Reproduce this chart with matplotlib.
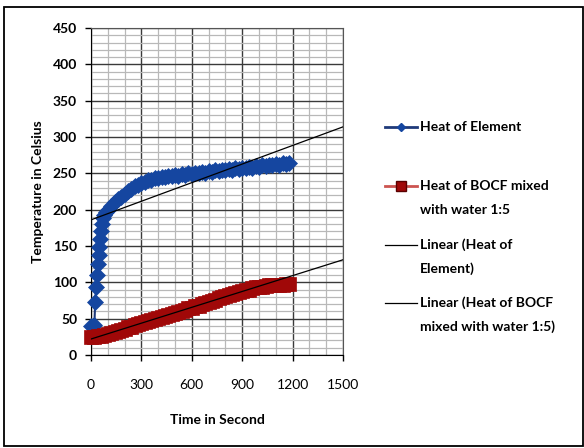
import numpy as np
import matplotlib
matplotlib.use("Agg")
import matplotlib.pyplot as plt
from matplotlib.lines import Line2D
from matplotlib.patches import Rectangle

plt.rcParams['font.family'] = ['Lato', 'DejaVu Sans']

# heat of element (s, deg C)
element_time = [0, 10, 20, 25, 30, 35, 40, 45, 50, 55, 60, 65, 70, 80, 90, 100,
                120, 140, 160, 180, 200, 220, 240, 260, 280, 300, 320, 340, 360, 380,
                400, 420, 440, 460, 480, 500, 520, 540, 560, 580, 600, 620, 640, 660,
                680, 700, 720, 740, 760, 780, 800, 820, 840, 860, 880, 900, 920, 940,
                960, 980, 1000, 1020, 1040, 1060, 1080, 1100, 1120, 1140, 1160, 1180]
element_temp = [40, 40, 41, 73, 93, 110, 125, 137, 148, 159, 170, 180, 188, 193, 197, 200,
                205, 210, 214, 218, 222, 226, 228, 232, 234, 237, 238, 241, 241, 243,
                243, 245, 245, 247, 246, 248, 247, 249, 248, 250, 249, 251, 250, 252,
                251, 253, 252, 254, 253, 255, 254, 256, 255, 257, 256, 258, 257, 259,
                258, 260, 259, 261, 260, 262, 261, 263, 262, 264, 263, 264]

# heat of BOCF mixed with water 1:5, sampled every 20 s
bocf_time = list(range(0, 1200, 20))
bocf_temp = [25, 25, 26, 26, 27, 29, 30, 31, 33, 34, 36, 38, 39, 41, 42, 44, 45, 47, 48, 50,
             51, 52, 54, 55, 57, 58, 59, 61, 62, 64, 65, 67, 68, 70, 72, 73, 75, 76, 78, 80,
             81, 83, 84, 86, 87, 88, 89, 90, 92, 93, 94, 94, 95, 96, 96, 97, 97, 97, 98, 98]

# linear trendlines as shown (slope, intercept), forecast forward to 1500 s
trend_element = (0.0853, 186.0)
trend_bocf = (0.0727, 22.0)
trend_end = 1500

x_ticks = [0, 300, 600, 900, 1200, 1500]
y_ticks = [0, 50, 100, 150, 200, 250, 300, 350, 400, 450]

blue_face = "#1546a0"
blue_line = "#1f3a7a"
red_face = "#a00808"
red_line = "#cc5450"

W, H = 584, 448
fig = plt.figure(figsize=(W / 100, H / 100), dpi=100)
ax = fig.add_axes([91 / W, 1 - 355 / H, (343 - 91) / W, (355 - 28) / H])

ax.set_xlim(0, 1500)
ax.set_ylim(0, 450)
ax.set_xticks(x_ticks)
ax.set_yticks(y_ticks)
ax.set_xticks(np.arange(0, 1501, 100), minor=True)
ax.set_yticks(np.arange(0, 451, 10), minor=True)
ax.grid(which='minor', color='#b8b8b8', linewidth=0.9)
ax.grid(which='major', color='#3a3a3a', linewidth=1.0)
ax.tick_params(which='minor', length=0)
ax.tick_params(which='major', direction='out', length=4, width=1)
ax.tick_params(axis='x', pad=13, labelsize=10)
ax.tick_params(axis='y', pad=6, labelsize=10)
for lab in ax.get_yticklabels():
    lab.set_fontweight('bold')
ax.set_axisbelow(True)
for s in ['top', 'right']:
    ax.spines[s].set_color('#555555')
for s in ['left', 'bottom']:
    ax.spines[s].set_color('black')

ax.plot(element_time, element_temp, color=blue_line, linewidth=1.5, marker='D',
        markersize=8.5, markerfacecolor=blue_face, markeredgecolor=blue_face,
        markeredgewidth=0.5, clip_on=False, zorder=3)
ax.plot(bocf_time, bocf_temp, color=red_line, linewidth=1.5, marker='s',
        markersize=10, markerfacecolor=red_face, markeredgecolor=red_face,
        markeredgewidth=0.5, clip_on=False, zorder=3)

for (m, b), t0 in [(trend_element, element_time[0]), (trend_bocf, bocf_time[0])]:
    tx = np.array([t0, trend_end])
    ax.plot(tx, m * tx + b, color='black', linewidth=0.9, zorder=4)

ax.set_xlabel("Time in Second", fontsize=10, fontweight='bold', labelpad=17)
ax.set_ylabel("Temperature in Celsius", fontsize=10, fontweight='bold', labelpad=6)

# legend, drawn by hand to match the layout
def fy(y):
    return 1 - y / H

entries = [
    (127, ["Heat of Element"], blue_line, 2, ('D', 4.5, blue_face)),
    (186, ["Heat of BOCF mixed", "with water 1:5"], red_line, 2, ('s', 6.5, red_face)),
    (245, ["Linear (Heat of", "Element)"], 'black', 0.9, None),
    (303, ["Linear (Heat of BOCF", "mixed with water 1:5)"], 'black', 0.9, None),
]
for y, lines, lc, lw, mk in entries:
    fig.add_artist(Line2D([385 / W, 417 / W], [fy(y), fy(y)], transform=fig.transFigure,
                          color=lc, lw=lw))
    if mk is not None:
        fig.add_artist(Line2D([401 / W], [fy(y)], transform=fig.transFigure,
                              linestyle='none', marker=mk[0], ms=mk[1],
                              mfc=mk[2], mec='#5a0000' if mk[0] == 's' else mk[2]))
    for i, txt in enumerate(lines):
        fig.text(420 / W, fy(y + i * 23.5), txt, fontsize=10, fontweight='bold',
                 va='center', ha='left')

fig.add_artist(Rectangle((4 / W, fy(446)), (583 - 4) / W, (446 - 7) / H,
                         transform=fig.transFigure, fill=False, edgecolor='black',
                         linewidth=1.3))

fig.savefig("out.png", dpi=100)
